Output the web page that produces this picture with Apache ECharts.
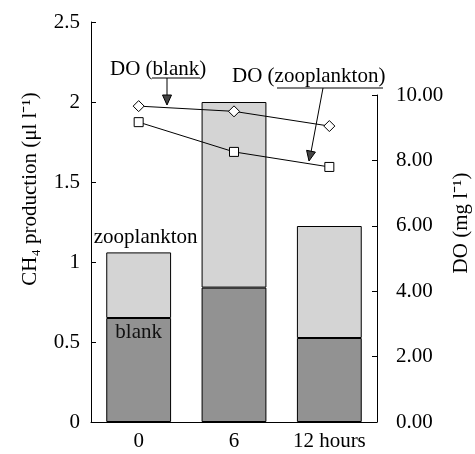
<!DOCTYPE html>
<html>
<head>
<meta charset="utf-8">
<script src="https://cdn.jsdelivr.net/npm/echarts@6/dist/echarts.min.js"></script>
<style>
    html, body { margin: 0; padding: 0; background: #fff; }
    #chart { width: 475px; height: 454px; }
</style>
</head>
<body>
<div id="chart"></div>
<script>
// data
const hours = ["0", "6", "12 hours"];
const ch4Blank = [0.65, 0.84, 0.525];          // dark part of the bars
const ch4Zoo = [0.41, 1.16, 0.70];             // light part stacked on top
const doBlank = [9.66, 9.50, 9.05];            // diamonds
const doZoo = [9.17, 8.26, 7.80];              // squares
const leftTicks = [0, 0.5, 1, 1.5, 2, 2.5];
const rightTicks = [0, 2, 4, 6, 8, 10];

const FONT = "Liberation Serif";

(function () {
    let myChart = echarts.init(document.getElementById("chart"));

    let axisTxt = { color: "#000", fontFamily: FONT, fontSize: 21 };

    let option = {
        animation: false,
        grid: [
            { left: 91, right: 98, top: 22, height: 400 },
            // right axis only runs 0..10, so it gets its own shorter grid
            { left: 91, right: 98, top: 95, height: 327 }
        ],
        xAxis: [
            {
                type: "category",
                gridIndex: 0,
                data: hours,
                axisLine: { lineStyle: { color: "#000", width: 1 } },
                axisTick: { show: false },
                axisLabel: Object.assign({ margin: 9 }, axisTxt)
            },
            {
                type: "category",
                gridIndex: 1,
                data: hours,
                show: false
            }
        ],
        yAxis: [
            {
                type: "value",
                gridIndex: 0,
                min: leftTicks[0],
                max: leftTicks[leftTicks.length - 1],
                interval: 0.5,
                axisLine: { show: true, lineStyle: { color: "#000", width: 1 } },
                axisTick: { show: true, inside: true, length: 5, lineStyle: { color: "#000" } },
                axisLabel: Object.assign({ margin: 11 }, axisTxt),
                splitLine: { show: false }
            },
            {
                type: "value",
                gridIndex: 1,
                position: "right",
                min: rightTicks[0],
                max: rightTicks[rightTicks.length - 1],
                interval: 2,
                axisLine: { show: true, lineStyle: { color: "#000", width: 1 } },
                axisTick: { show: true, inside: true, length: 5, lineStyle: { color: "#000" } },
                axisLabel: Object.assign({
                    margin: 19,
                    formatter: function (v) { return v.toFixed(2); }
                }, axisTxt),
                splitLine: { show: false }
            }
        ],
        series: [
            {
                name: "blank",
                type: "bar",
                stack: "ch4",
                barWidth: "68%",
                data: ch4Blank,
                itemStyle: { color: "#929292", borderColor: "#000", borderWidth: 1 },
                label: {
                    show: true,
                    position: "insideTop",
                    distance: 4,
                    formatter: function (p) { return p.dataIndex === 0 ? "blank" : ""; },
                    color: "#111", fontFamily: FONT, fontSize: 21
                }
            },
            {
                name: "zooplankton",
                type: "bar",
                stack: "ch4",
                barWidth: "68%",
                data: ch4Zoo,
                itemStyle: { color: "#d4d4d4", borderColor: "#000", borderWidth: 1 },
                label: {
                    show: true,
                    position: "top",
                    distance: 4,
                    offset: [7, 0],
                    formatter: function (p) { return p.dataIndex === 0 ? "zooplankton" : ""; },
                    color: "#000", fontFamily: FONT, fontSize: 21
                }
            },
            {
                name: "DO (blank)",
                type: "line",
                xAxisIndex: 1,
                yAxisIndex: 1,
                data: doBlank,
                symbol: "diamond",
                symbolSize: [11, 11],
                lineStyle: { color: "#000", width: 1 },
                itemStyle: { color: "#fff", borderColor: "#000", borderWidth: 1 },
                z: 5
            },
            {
                name: "DO (zooplankton)",
                type: "line",
                xAxisIndex: 1,
                yAxisIndex: 1,
                data: doZoo,
                symbol: "rect",
                symbolSize: 9,
                lineStyle: { color: "#000", width: 1 },
                itemStyle: { color: "#fff", borderColor: "#000", borderWidth: 1 },
                z: 5
            }
        ],
        graphic: [
            // axis titles
            {
                type: "text", x: 30, y: 189, rotation: Math.PI / 2,
                style: {
                    text: "CH\u2084 production (\u03bcl l\u207b\u00b9)",
                    font: "21px " + FONT, fill: "#000",
                    align: "center", verticalAlign: "middle"
                }
            },
            {
                type: "text", x: 461, y: 223, rotation: Math.PI / 2,
                style: {
                    text: "DO (mg l\u207b\u00b9)",
                    font: "21px " + FONT, fill: "#000",
                    align: "center", verticalAlign: "middle"
                }
            },
            // DO (blank) callout
            {
                type: "text", x: 110, y: 69,
                style: { text: "DO (blank)", font: "21px " + FONT, fill: "#000", align: "left", verticalAlign: "middle" }
            },
            { type: "line", shape: { x1: 152, y1: 78, x2: 200, y2: 78 }, style: { stroke: "#000", lineWidth: 1 } },
            { type: "line", shape: { x1: 167, y1: 78, x2: 167, y2: 96 }, style: { stroke: "#000", lineWidth: 1 } },
            {
                type: "polygon", shape: { points: [[162.5, 95], [171.5, 95], [167, 105]] },
                style: { fill: "#444", stroke: "#000", lineWidth: 1 }
            },
            // DO (zooplankton) callout
            {
                type: "text", x: 232, y: 76,
                style: { text: "DO (zooplankton)", font: "21px " + FONT, fill: "#000", align: "left", verticalAlign: "middle" }
            },
            { type: "line", shape: { x1: 277, y1: 88, x2: 383, y2: 88 }, style: { stroke: "#000", lineWidth: 1 } },
            { type: "line", shape: { x1: 323, y1: 88, x2: 311, y2: 152 }, style: { stroke: "#000", lineWidth: 1 } },
            {
                type: "polygon", shape: { points: [[315.4, 152.1], [306.6, 150.3], [309, 161]] },
                style: { fill: "#444", stroke: "#000", lineWidth: 1 }
            }
        ]
    };

    myChart.setOption(option);
    window.addEventListener("resize", function () {
        myChart.resize();
    });
})();
</script>
</body>
</html>
